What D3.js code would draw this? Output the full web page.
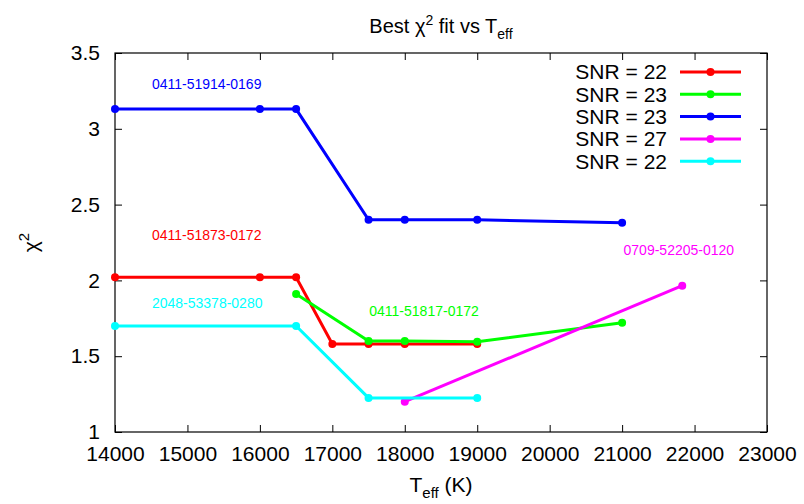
<!DOCTYPE html>
<html>
<head>
<meta charset="utf-8">
<script src="https://cdn.jsdelivr.net/npm/d3@7"></script>
<style>
    body { margin: 0; background: #fff; }
    svg { display: block; font-family: "Liberation Sans", Arial, Helvetica, sans-serif; }
    .tick text { font-size: 21px; fill: #000; }
    .tick line { stroke: #000; }
</style>
</head>
<body>
<div id="chart"></div>
<script>
// Teff grid values and best chi^2 for each spectrum
const redTeff = [14000, 16000, 16500, 17000, 17500, 18000, 19000];
const redChi2 = [2.02, 2.02, 2.02, 1.58, 1.58, 1.58, 1.58];

const greenTeff = [16500, 17500, 18000, 19000, 21000];
const greenChi2 = [1.91, 1.60, 1.60, 1.595, 1.72];

const blueTeff = [14000, 16000, 16500, 17500, 18000, 19000, 21000];
const blueChi2 = [3.13, 3.13, 3.13, 2.40, 2.40, 2.40, 2.38];

const magentaTeff = [18000, 21830];
const magentaChi2 = [1.20, 1.965];

const cyanTeff = [14000, 16500, 17500, 19000];
const cyanChi2 = [1.70, 1.70, 1.225, 1.225];

const legendLabels = ["SNR = 22", "SNR = 23", "SNR = 23", "SNR = 27", "SNR = 22"];
const spectrumNames = ["0411-51873-0172", "0411-51817-0172", "0411-51914-0169", "0709-52205-0120", "2048-53378-0280"];
// where gnuplot put each spectrum name (data coords, left edge / baseline)
const nameTeff = [14510, 17510, 14510, 21020, 14510];
const nameChi2 = [2.265, 1.765, 3.26, 2.165, 1.815];

const xTicks = [14000, 15000, 16000, 17000, 18000, 19000, 20000, 21000, 22000, 23000];
const yTicks = [1, 1.5, 2, 2.5, 3, 3.5];

const WIDTH = 804;
const HEIGHT = 504;
const MARGIN = { top: 53, right: 37, bottom: 72, left: 115 };
const PLOT_W = WIDTH - MARGIN.left - MARGIN.right;
const PLOT_H = HEIGHT - MARGIN.top - MARGIN.bottom;
const TICK = 7;

const colors = ["#ff0000", "#00ff00", "#0000ff", "#ff00ff", "#00ffff"];

const series = [
    { teff: redTeff, chi2: redChi2 },
    { teff: greenTeff, chi2: greenChi2 },
    { teff: blueTeff, chi2: blueChi2 },
    { teff: magentaTeff, chi2: magentaChi2 },
    { teff: cyanTeff, chi2: cyanChi2 }
].map((s, i) => ({
    name: legendLabels[i],
    color: colors[i],
    points: s.teff.map((t, j) => ({ t: t, c: s.chi2[j] }))
}));

const svgRoot = d3.select("#chart")
    .append("svg")
    .attr("width", WIDTH)
    .attr("height", HEIGHT);

const svg = svgRoot.append("g")
    .attr("transform", `translate(${MARGIN.left},${MARGIN.top})`);

let xScale = d3.scaleLinear()
    .domain([xTicks[0], xTicks[xTicks.length - 1]])
    .range([0, PLOT_W]);

let yScale = d3.scaleLinear()
    .domain([yTicks[0], yTicks[yTicks.length - 1]])
    .range([PLOT_H, 0]);

// Axes, ticks point inwards and are mirrored on top/right
svg.append("g")
    .attr("transform", `translate(0,${PLOT_H})`)
    .call(d3.axisBottom(xScale).tickValues(xTicks).tickFormat(d => d)
        .tickSizeInner(-TICK).tickSizeOuter(0).tickPadding(14));

svg.append("g")
    .call(d3.axisTop(xScale).tickValues(xTicks).tickFormat("")
        .tickSizeInner(-TICK).tickSizeOuter(0));

svg.append("g")
    .call(d3.axisLeft(yScale).tickValues(yTicks).tickFormat(d => d)
        .tickSizeInner(-TICK).tickSizeOuter(0).tickPadding(15));

svg.append("g")
    .attr("transform", `translate(${PLOT_W},0)`)
    .call(d3.axisRight(yScale).tickValues(yTicks).tickFormat("")
        .tickSizeInner(-TICK).tickSizeOuter(0));

svg.selectAll(".domain").remove();

// frame
svg.append("rect")
    .attr("width", PLOT_W)
    .attr("height", PLOT_H)
    .attr("fill", "none")
    .attr("stroke", "#000")
    .attr("stroke-width", 1.2);

// Lines + points
const line = d3.line()
    .x(d => xScale(d.t))
    .y(d => yScale(d.c));

const groups = svg.append("g")
    .selectAll("g")
    .data(series)
    .enter()
    .append("g");

groups.append("path")
    .attr("d", d => line(d.points))
    .attr("fill", "none")
    .attr("stroke", d => d.color)
    .attr("stroke-width", 3);

groups.selectAll("circle")
    .data(d => d.points.map(p => ({ ...p, color: d.color })))
    .enter().append("circle")
    .attr("cx", d => xScale(d.t))
    .attr("cy", d => yScale(d.c))
    .attr("r", 4)
    .attr("fill", d => d.color);

// spectrum labels
svg.append("g")
    .selectAll("text")
    .data(spectrumNames)
    .enter().append("text")
    .attr("x", (d, i) => xScale(nameTeff[i]))
    .attr("y", (d, i) => yScale(nameChi2[i]))
    .attr("fill", (d, i) => colors[i])
    .style("font-size", "14px")
    .text(d => d);

// Legend
const legend = svgRoot.append("g")
    .selectAll("g")
    .data(series)
    .enter().append("g")
    .attr("transform", (d, i) => `translate(0,${72 + i * 22.3})`);

legend.append("text")
    .attr("x", 667)
    .attr("dy", "0.35em")
    .attr("text-anchor", "end")
    .style("font-size", "21px")
    .text(d => d.name);

legend.append("line")
    .attr("x1", 680)
    .attr("x2", 741)
    .attr("stroke", d => d.color)
    .attr("stroke-width", 3);

legend.append("circle")
    .attr("cx", 710.5)
    .attr("r", 4)
    .attr("fill", d => d.color);

// Title
const title = svgRoot.append("text")
    .attr("x", MARGIN.left + PLOT_W / 2)
    .attr("y", 33)
    .attr("text-anchor", "middle")
    .style("font-size", "20px");
title.append("tspan").text("Best \u03C7");
title.append("tspan").attr("dy", -8).style("font-size", "14px").text("2");
title.append("tspan").attr("dy", 8).text(" fit vs T");
title.append("tspan").attr("dy", 6).style("font-size", "14px").text("eff");

// X-axis label
const xLabel = svgRoot.append("text")
    .attr("x", MARGIN.left + PLOT_W / 2)
    .attr("y", 492)
    .attr("text-anchor", "middle")
    .style("font-size", "21px");
xLabel.append("tspan").text("T");
xLabel.append("tspan").attr("dy", 6).style("font-size", "15px").text("eff");
xLabel.append("tspan").attr("dy", -6).text(" (K)");

// Y-axis label
const yLabel = svgRoot.append("text")
    .attr("transform", `translate(38,${MARGIN.top + PLOT_H / 2})rotate(-90)`)
    .attr("text-anchor", "middle")
    .style("font-size", "21px");
yLabel.append("tspan").text("\u03C7");
yLabel.append("tspan").attr("dy", -9).style("font-size", "15px").text("2");
</script>
</body>
</html>
